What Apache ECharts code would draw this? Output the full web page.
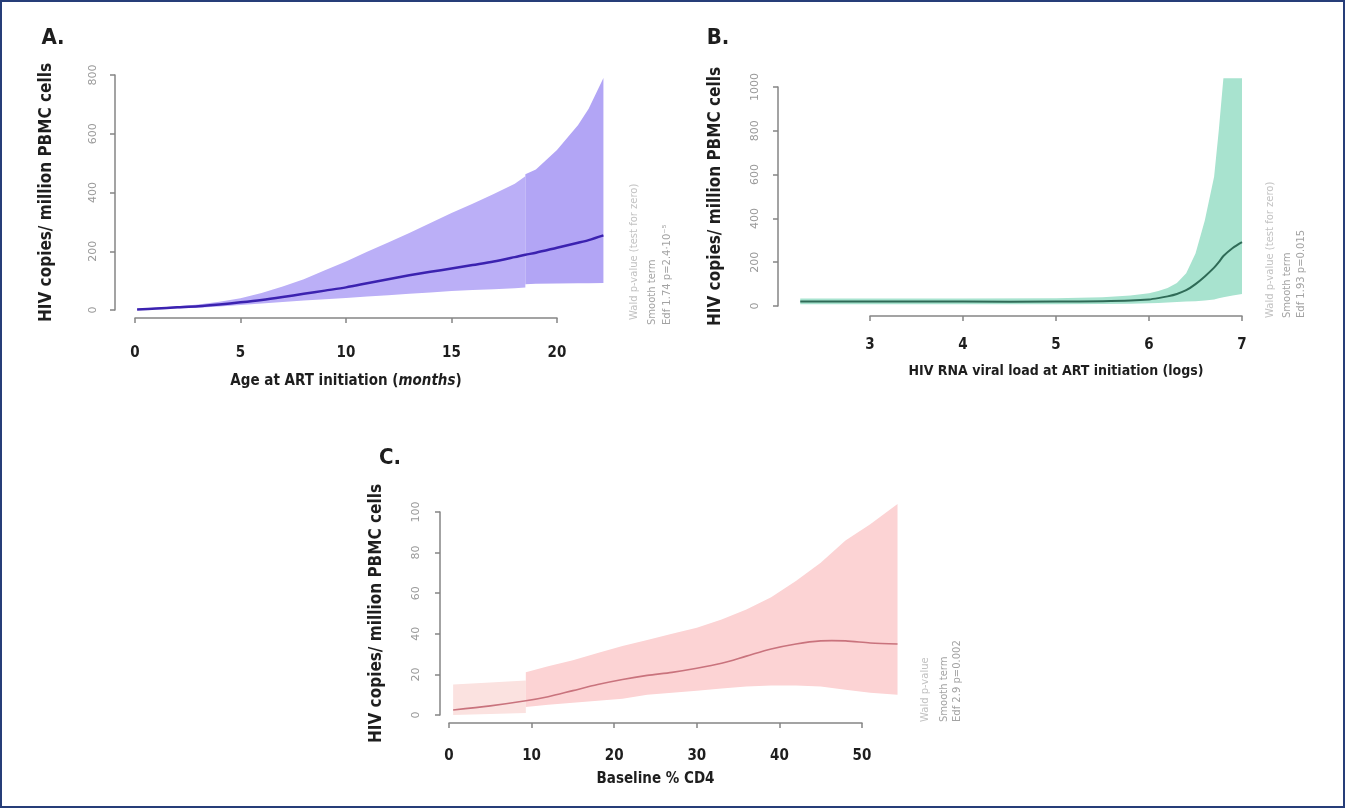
<!DOCTYPE html>
<html>
<head>
<meta charset="utf-8">
<script src="https://cdn.jsdelivr.net/npm/echarts@6/dist/echarts.min.js"></script>
<style>html,body{margin:0;padding:0;background:#fff}#main{width:1345px;height:808px}</style>
</head>
<body>
<div id="main"></div>
<script>
// A. age at ART initiation (months)
var ageX     = [0.1, 1, 2, 3, 4, 5, 6, 7, 8, 9, 10, 11, 12, 13, 14, 15, 16, 17, 18, 18.5, 18.5, 19, 20, 21, 21.5, 22.2];
var ageFit   = [2, 5, 9, 13, 19, 26, 34, 44, 55, 66, 77, 91, 105, 118, 130, 141, 153, 165, 180, 188, 188, 195, 212, 229, 238, 254];
var ageLower = [0, 2, 5, 8, 12, 17, 22, 27, 32, 37, 41, 46, 50, 55, 60, 65, 68, 71, 74, 77, 88, 89, 90, 91, 91, 92];
var ageUpper = [4, 8, 13, 19, 28, 40, 58, 80, 105, 135, 165, 198, 230, 262, 296, 330, 362, 395, 430, 455, 462, 478, 545, 630, 685, 790];
var ageTicks = [0, 5, 10, 15, 20];
var ageYTicks = [0, 200, 400, 600, 800];

// B. HIV RNA viral load (logs)
var vlX     = [2.25, 3, 4, 5, 5.5, 5.8, 6, 6.1, 6.2, 6.3, 6.4, 6.5, 6.6, 6.7, 6.75, 6.8, 6.9, 7.0];
var vlFit   = [20, 20, 20, 20, 22, 25, 30, 36, 44, 55, 72, 100, 135, 175, 200, 228, 265, 292];
var vlLower = [8, 8, 8, 8, 9, 10, 12, 14, 16, 18, 20, 22, 25, 30, 35, 40, 48, 55];
var vlUpper = [34, 34, 34, 35, 40, 48, 58, 68, 82, 105, 150, 240, 390, 590, 800, 1040, 1040, 1040];
var vlTicks = [3, 4, 5, 6, 7];
var vlYTicks = [0, 200, 400, 600, 800, 1000];

// C. baseline % CD4
var cd4X     = [0.5, 5, 9.3, 9.3, 12, 15, 18, 21, 24, 27, 30, 33, 36, 39, 42, 45, 48, 51, 54.3];
var cd4Fit   = [2.5, 4.5, 7, 7, 9, 12, 15, 17.5, 19.5, 21, 23, 25.5, 29, 32.5, 35, 36.5, 36.5, 35.5, 35];
var cd4Lower = [0, 0.5, 1, 4, 5, 6, 7, 8, 10, 11, 12, 13, 14, 14.5, 14.5, 14, 12.5, 11, 10];
var cd4Upper = [15, 16, 17, 21, 24, 27, 30.5, 34, 37, 40, 43, 47, 52, 58, 66, 75, 86, 94, 104];
var cd4Ticks = [0, 10, 20, 30, 40, 50];
var cd4YTicks = [0, 20, 40, 60, 80, 100];

var FONT = "'Liberation Sans Narrow','DejaVu Sans Condensed',sans-serif";
var AXIS_GREY = '#858585';

var chart = echarts.init(document.getElementById('main'));

function xAxisCfg(gi, ticks, name, o) {
  return {
    type: 'value', gridIndex: gi,
    min: ticks[0], max: ticks[ticks.length - 1], interval: ticks[1] - ticks[0],
    offset: o.offset,
    axisLine: { onZero: false, lineStyle: { color: AXIS_GREY, width: 1.5 } },
    axisTick: { length: 5, lineStyle: { color: AXIS_GREY, width: 1.5 } },
    splitLine: { show: false },
    axisLabel: { margin: o.margin, color: '#1e1e1e', fontSize: 15, fontWeight: 'bold', fontFamily: FONT },
    name: name, nameLocation: 'middle', nameGap: o.nameGap,
    nameTextStyle: {
      color: '#1e1e1e', fontSize: o.nameSize, fontWeight: 'bold', fontFamily: FONT,
      rich: { i: { fontStyle: 'italic', fontWeight: 'bold', fontSize: o.nameSize, fontFamily: FONT, color: '#1e1e1e' } }
    }
  };
}

function yAxisCfg(gi, ticks, o) {
  return {
    type: 'value', gridIndex: gi,
    min: ticks[0], max: ticks[ticks.length - 1], interval: ticks[1] - ticks[0],
    offset: o.offset,
    axisLine: { show: true, onZero: false, lineStyle: { color: AXIS_GREY, width: 1.5 } },
    axisTick: { show: true, length: 5, lineStyle: { color: AXIS_GREY, width: 1.5 } },
    splitLine: { show: false },
    axisLabel: {
      rotate: 90, margin: o.margin, color: '#9a9a9a', fontSize: 11, fontFamily: 'DejaVu Sans',
      formatter: function (v) { return String(v); }
    },
    name: 'HIV copies/ million PBMC cells', nameLocation: 'middle', nameGap: o.nameGap,
    nameTextStyle: { color: '#1e1e1e', fontSize: 17, fontWeight: 'bold', fontFamily: FONT }
  };
}

// confidence band: one polygon per segment (a repeated x starts a new segment)
function bandSeries(gi, xs, lo, hi, colors) {
  return {
    type: 'custom', xAxisIndex: gi, yAxisIndex: gi, clip: false, silent: true, z: 1,
    data: xs.map(function (x, j) { return [x, lo[j], hi[j]]; }),
    renderItem: function (params, api) {
      if (params.dataIndex !== 0) return null;
      var segs = [], start = 0;
      for (var k = 1; k <= xs.length; k++) {
        if (k === xs.length || xs[k] === xs[k - 1]) { segs.push([start, k - 1]); start = k; }
      }
      return {
        type: 'group',
        children: segs.map(function (s, n) {
          var pts = [];
          for (var j = s[0]; j <= s[1]; j++) pts.push(api.coord([xs[j], hi[j]]));
          for (var j2 = s[1]; j2 >= s[0]; j2--) pts.push(api.coord([xs[j2], lo[j2]]));
          return { type: 'polygon', shape: { points: pts }, style: { fill: colors[n % colors.length] } };
        })
      };
    }
  };
}

// fitted smooth curve, drawn as a polyline through the axis scales (not clipped at the last tick)
function fitSeries(gi, xs, ys, color, width) {
  return {
    type: 'custom', xAxisIndex: gi, yAxisIndex: gi, clip: false, silent: true, z: 3,
    data: xs.map(function (x, j) { return [x, ys[j]]; }),
    renderItem: function (params, api) {
      if (params.dataIndex !== 0) return null;
      var pts = [];
      for (var j = 0; j < xs.length; j++) {
        if (j > 0 && xs[j] === xs[j - 1]) continue;
        pts.push(api.coord([xs[j], ys[j]]));
      }
      return {
        type: 'polyline', shape: { points: pts, smooth: 0.3 },
        style: { stroke: color, lineWidth: width, fill: null, lineJoin: 'round' }
      };
    }
  };
}

// horizontal reference line at zero, wider than the tick range like R's abline
function zeroLine(gi, base) {
  return {
    type: 'line', xAxisIndex: gi, yAxisIndex: gi, data: [], silent: true,
    markLine: {
      silent: true, symbol: 'none', label: { show: false },
      lineStyle: { color: '#7a7a7a', width: 1.5, type: 'solid' },
      data: [[{ coord: [base[0], 0] }, { coord: [base[1], 0] }]]
    }
  };
}

function sideNote(x, y, text, color) {
  return {
    type: 'text', x: x, y: y, rotation: Math.PI / 2,
    style: { text: text, fill: color, font: '10px DejaVu Sans', textAlign: 'left', textVerticalAlign: 'middle' }
  };
}

function letter(x, y, t) {
  return {
    type: 'text', x: x, y: y,
    style: { text: t, fill: '#1e1e1e', font: 'bold 22px ' + FONT, textAlign: 'center', textVerticalAlign: 'middle' }
  };
}

var option = {
  backgroundColor: '#ffffff',
  animation: false,
  grid: [
    { left: 135, top: 75, width: 422, height: 235 },
    { left: 870, top: 87, width: 372, height: 219 },
    { left: 449, top: 512, width: 413, height: 203 }
  ],
  xAxis: [
    xAxisCfg(0, ageTicks, '{b|Age at ART initiation (}{i|months}{b|)}', { offset: 8, margin: 28, nameGap: 56, nameSize: 15 }),
    xAxisCfg(1, vlTicks, 'HIV RNA viral load at ART initiation (logs)', { offset: 10, margin: 22, nameGap: 48, nameSize: 14 }),
    xAxisCfg(2, cd4Ticks, 'Baseline % CD4', { offset: 8, margin: 26, nameGap: 49, nameSize: 15 })
  ],
  yAxis: [
    yAxisCfg(0, ageYTicks, { offset: 20, margin: 16, nameGap: 60 }),
    yAxisCfg(1, vlYTicks, { offset: 92, margin: 17, nameGap: 54 }),
    yAxisCfg(2, cd4YTicks, { offset: 9, margin: 18, nameGap: 55 })
  ],
  series: [
    zeroLine(0, [-1.3, 23.1]),
    bandSeries(0, ageX, ageLower, ageUpper, ['#bbaff7', '#b2a5f5']),
    fitSeries(0, ageX, ageFit, '#3b22b0', 2.5),
    zeroLine(1, [1.9, 7.17]),
    bandSeries(1, vlX, vlLower, vlUpper, ['#a8e3cf']),
    fitSeries(1, vlX, vlFit, '#2f6b57', 2),
    zeroLine(2, [-2.3, 56]),
    bandSeries(2, cd4X, cd4Lower, cd4Upper, ['#fbe2e0', '#fcd3d4']),
    fitSeries(2, cd4X, cd4Fit, '#c9737d', 1.6)
  ],
  graphic: [
    { type: 'rect', shape: { x: 1, y: 1, width: 1343, height: 806 }, style: { fill: 'none', stroke: '#263d78', lineWidth: 2 } },
    letter(53, 38, 'A.'),
    letter(718, 38, 'B.'),
    letter(390, 458, 'C.'),
    sideNote(634, 320, 'Wald p-value (test for zero)', '#c2c2c2'),
    sideNote(652, 325, 'Smooth term', '#a3a3a3'),
    sideNote(667, 325, 'Edf 1.74 p=2.4\u00b710\u207b\u2075', '#a3a3a3'),
    sideNote(1270, 318, 'Wald p-value (test for zero)', '#c2c2c2'),
    sideNote(1287, 318, 'Smooth term', '#a3a3a3'),
    sideNote(1301, 318, 'Edf 1.93 p=0.015', '#a3a3a3'),
    sideNote(925, 722, 'Wald p-value', '#c2c2c2'),
    sideNote(944, 722, 'Smooth term', '#a3a3a3'),
    sideNote(957, 722, 'Edf 2.9 p=0.002', '#a3a3a3')
  ]
};
chart.setOption(option);
</script>
</body>
</html>
